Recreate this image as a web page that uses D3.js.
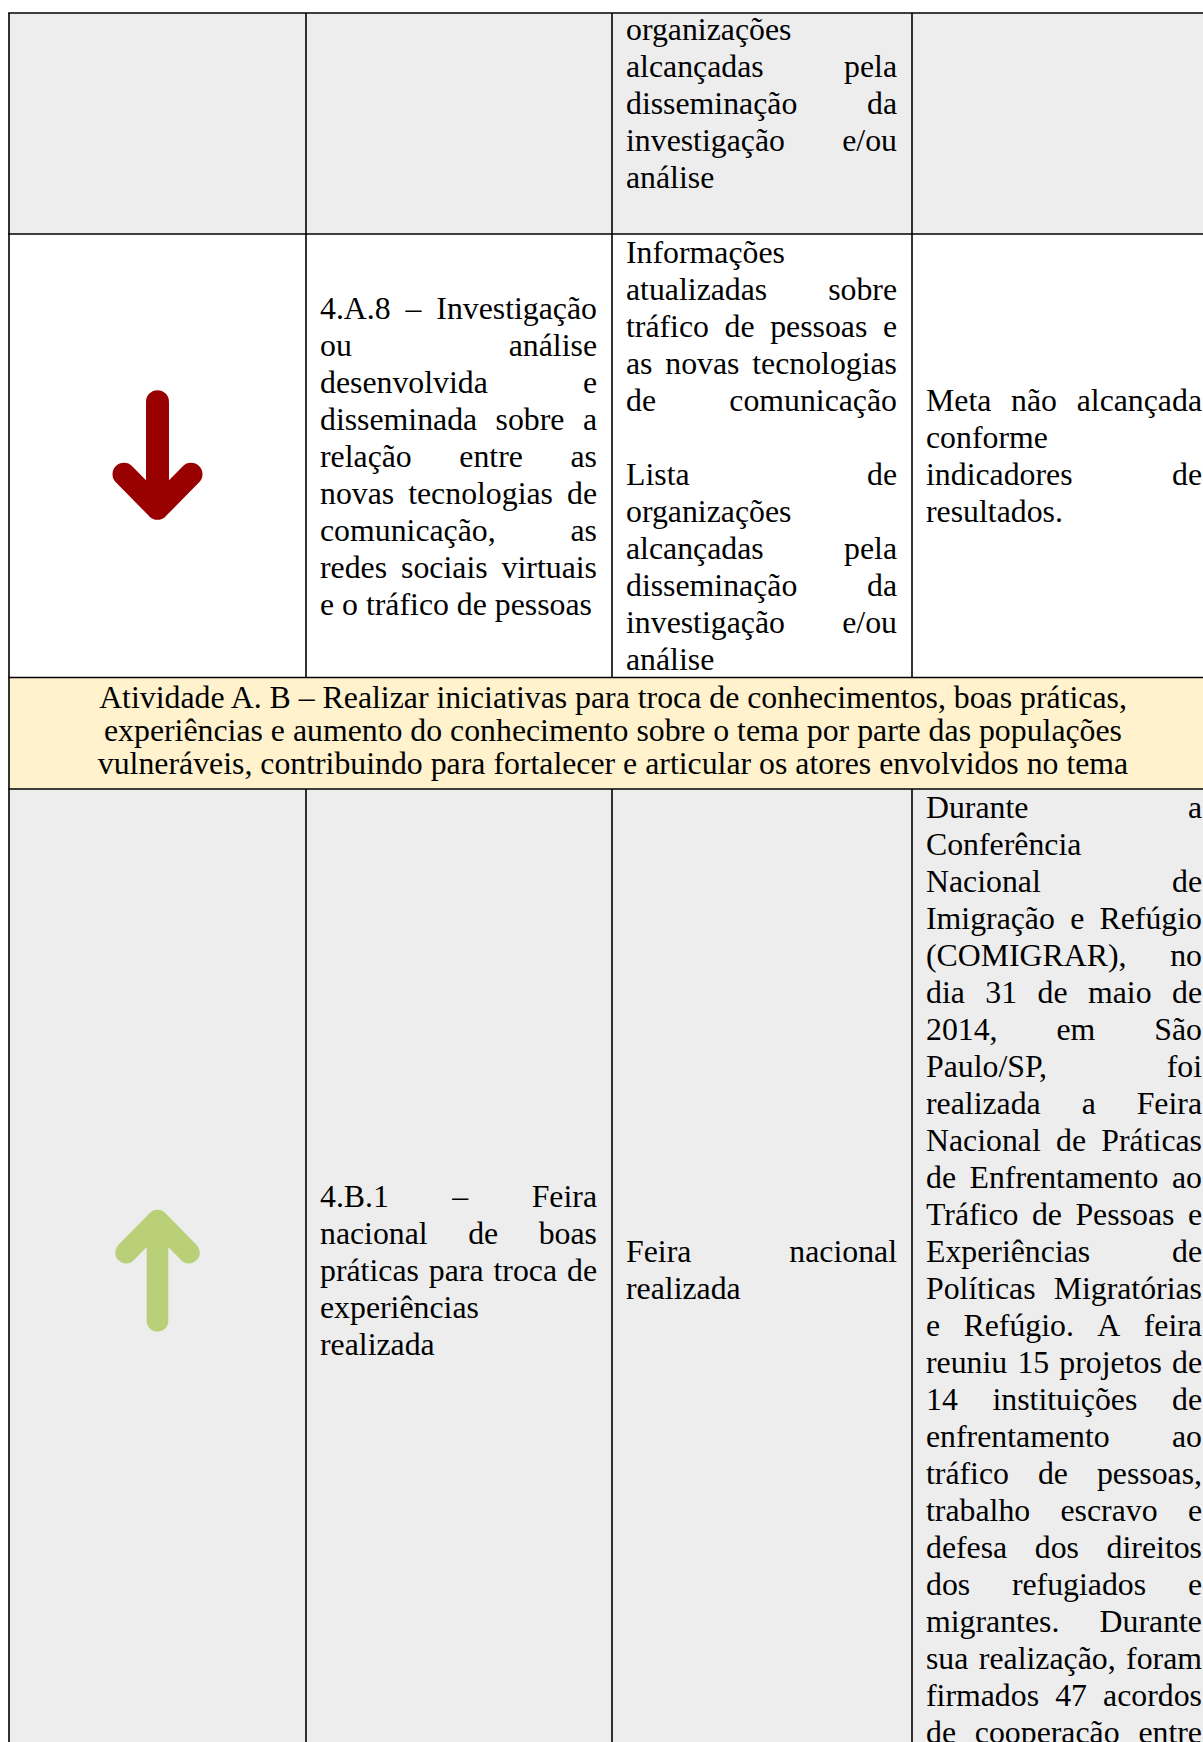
<!DOCTYPE html>
<html>
<head>
<meta charset="utf-8">
<script src="https://cdn.jsdelivr.net/npm/d3@7"></script>
<style>
  html, body { margin: 0; padding: 0; background: #ffffff; overflow: hidden; }
  svg { display: block; }
  .cell-text, .band-text { font-family: "Liberation Serif", "Times New Roman", serif; fill: #000; }
</style>
</head>
<body>
<div id="chart"></div>
<script>
// ---------------- DATA ----------------
const columns = ["status", "product", "indicator", "result"];

// Row 1 (continuation from previous page)
const row1Status = null;
const row1Product = [];
const row1Indicator = ["organizações", "alcançadas pela", "disseminação da", "investigação e/ou", "análise", ""];
const row1Result = [];

// Row 2 : 4.A.8
const row2Status = "down";
const row2Product = [
  "4.A.8 – Investigação", "ou análise", "desenvolvida e", "disseminada sobre a",
  "relação entre as", "novas tecnologias de", "comunicação, as",
  "redes sociais virtuais", "e o tráfico de pessoas"
];
const row2Indicator = [
  "Informações", "atualizadas sobre", "tráfico de pessoas e", "as novas tecnologias",
  "de comunicação", "", "Lista de", "organizações", "alcançadas pela",
  "disseminação da", "investigação e/ou", "análise"
];
const row2Result = ["Meta não alcançada", "conforme", "indicadores de", "resultados."];

// Activity band
const activityTitle = [
  "Atividade A. B – Realizar iniciativas para troca de conhecimentos, boas práticas,",
  "experiências e aumento do conhecimento sobre o tema por parte das populações",
  "vulneráveis, contribuindo para fortalecer e articular os atores envolvidos no tema"
];

// Row 3 : 4.B.1
const row3Status = "up";
const row3Product = ["4.B.1 – Feira", "nacional de boas", "práticas para troca de", "experiências", "realizada"];
const row3Indicator = ["Feira nacional", "realizada"];
const row3Result = [
  "Durante a", "Conferência", "Nacional de", "Imigração e Refúgio", "(COMIGRAR), no",
  "dia 31 de maio de", "2014, em São", "Paulo/SP, foi", "realizada a Feira",
  "Nacional de Práticas", "de Enfrentamento ao", "Tráfico de Pessoas e", "Experiências de",
  "Políticas Migratórias", "e Refúgio. A feira", "reuniu 15 projetos de", "14 instituições de",
  "enfrentamento ao", "tráfico de pessoas,", "trabalho escravo e", "defesa dos direitos",
  "dos refugiados e", "migrantes. Durante", "sua realização, foram", "firmados 47 acordos",
  "de cooperação entre"
];

// ---------------- LAYOUT ----------------
const W = 1203, H = 1742;
const FONT = 31.8, LH = 37, BASE = 29.3;
const BAND_LH = 33, BAND_BASE = 30.5;
const PAD_L = 14, PAD_R = 15;
const GRAY = "#EDEDED", YELLOW = "#FFF2CC", WHITE = "#FFFFFF";
const statusColor = { down: "#990000", up: "#B9CF78" };
const statusSize = { down: 1.0, up: 0.94 };

const colX = d3.scaleOrdinal().domain(columns).range([9, 306, 612, 912]);
const tableRight = 1217;
const colRight = c => { const i = columns.indexOf(c); return i < columns.length - 1 ? colX(columns[i + 1]) : tableRight; };

const rows = [
  { kind: "row", fill: GRAY, lines: 6, cells: { status: row1Status, product: row1Product, indicator: row1Indicator, result: row1Result }, shift: -2, heightAdj: -1 },
  { kind: "row", fill: WHITE, lines: 12, cells: { status: row2Status, product: row2Product, indicator: row2Indicator, result: row2Result }, heightAdj: -0.5 },
  { kind: "band", fill: YELLOW, lines: 3, text: activityTitle, heightAdj: 0.5 },
  { kind: "row", fill: GRAY, lines: 26, cells: { status: row3Status, product: row3Product, indicator: row3Indicator, result: row3Result }, justifyLast: true }
];

let acc = 13;
rows.forEach(r => { r.y0 = acc; r.h = r.lines * LH + (r.heightAdj || 0); acc += r.h; r.y1 = acc; });

const svg = d3.select("#chart").append("svg")
  .attr("width", W).attr("height", H)
  .attr("viewBox", `0 0 ${W} ${H}`);

const gBg = svg.append("g");
const gText = svg.append("g");
const gMarks = svg.append("g");
const gGrid = svg.append("g");

gBg.selectAll("rect").data(rows).join("rect")
  .attr("x", colX("status")).attr("y", d => d.y0)
  .attr("width", tableRight - colX("status")).attr("height", d => d.h)
  .attr("fill", d => d.fill);

function drawLines(g, lines, x0, x1, yTop, justifyLast) {
  lines.forEach((line, i) => {
    if (!line) return;
    const y = yTop + i * LH + BASE;
    const words = line.split(" ");
    const t = g.append("text").attr("class", "cell-text").attr("font-size", FONT).attr("y", y);
    const spans = words.map(w => t.append("tspan").attr("y", y).text(w));
    const widths = spans.map(s => s.node().getComputedTextLength());
    const isLast = i === lines.length - 1;
    const justify = words.length > 1 && (!isLast || justifyLast);
    const gap = justify ? (x1 - x0 - d3.sum(widths)) / (words.length - 1) : FONT * 0.25;
    let x = x0;
    spans.forEach((s, k) => { s.attr("x", x); x += widths[k] + gap; });
  });
}

function drawArrow(g, dir, cx, cy, color, k) {
  const s = dir === "down" ? 1 : -1;
  const tipY = cy + s * 52.5 * k, tailY = cy - s * 54 * k, wingY = cy + s * 18.5 * k, wx = 33.5 * k;
  const p = d3.path();
  p.moveTo(cx, tailY); p.lineTo(cx, tipY);
  p.moveTo(cx - wx, wingY); p.lineTo(cx, tipY); p.lineTo(cx + wx, wingY);
  g.append("path").attr("d", p.toString())
    .attr("fill", "none").attr("stroke", color).attr("stroke-width", 23 * k)
    .attr("stroke-linecap", "round").attr("stroke-linejoin", "round");
}

rows.forEach(r => {
  if (r.kind === "band") {
    const cx = (colX("status") + tableRight) / 2;
    r.text.forEach((line, i) => {
      gText.append("text").attr("class", "band-text").attr("font-size", FONT)
        .attr("x", cx).attr("y", r.y0 + BAND_BASE + i * BAND_LH)
        .attr("text-anchor", "middle").text(line);
    });
    return;
  }
  columns.forEach(c => {
    const v = r.cells[c];
    if (c === "status") {
      if (v) drawArrow(gMarks, v, (colX(c) + colRight(c)) / 2, (r.y0 + r.y1) / 2, statusColor[v], statusSize[v]);
      return;
    }
    if (!v || !v.length) return;
    const top = r.y0 + (r.h - v.length * LH) / 2 + (r.shift || 0);
    drawLines(gText, v, colX(c) + PAD_L, colRight(c) - PAD_R, top, !!r.justifyLast);
  });
});

const BW = 1.6;
const hLines = [rows[0].y0].concat(rows.map(r => r.y1));
gGrid.selectAll("line.h").data(hLines).join("line").attr("class", "h")
  .attr("x1", colX("status") - BW / 2).attr("x2", tableRight + BW / 2)
  .attr("y1", d => d).attr("y2", d => d)
  .attr("stroke", "#000").attr("stroke-width", BW);

const vSegs = [];
rows.forEach(r => {
  const xs = r.kind === "band" ? [colX("status"), tableRight] : columns.map(c => colX(c)).concat([tableRight]);
  xs.forEach(x => vSegs.push({ x, y0: r.y0, y1: r.y1 }));
});
gGrid.selectAll("line.v").data(vSegs).join("line").attr("class", "v")
  .attr("x1", d => d.x).attr("x2", d => d.x)
  .attr("y1", d => d.y0).attr("y2", d => d.y1)
  .attr("stroke", "#000").attr("stroke-width", BW);
</script>
</body>
</html>
